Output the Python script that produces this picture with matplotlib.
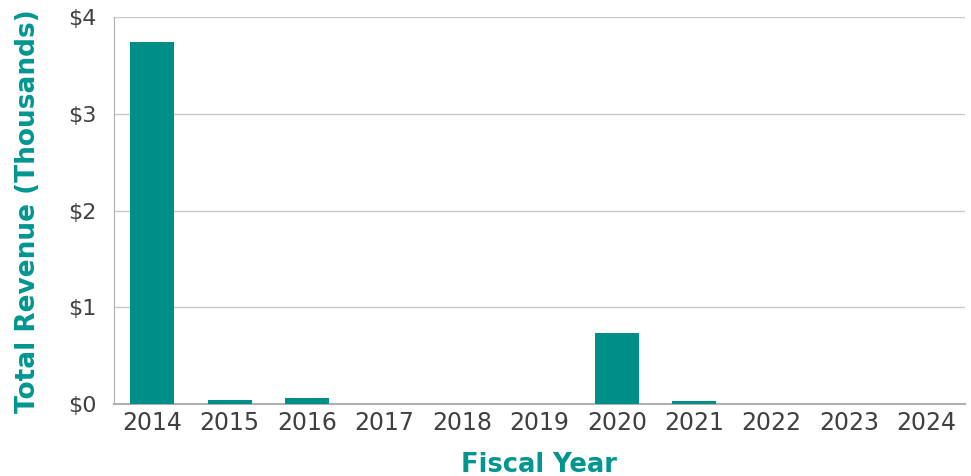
import matplotlib
matplotlib.use('Agg')
import matplotlib.pyplot as plt
from matplotlib.ticker import FuncFormatter

years = ["2014", "2015", "2016", "2017", "2018", "2019", "2020", "2021", "2022", "2023", "2024"]
revenue = [3.74, 0.04, 0.065, 0.004, 0.004, 0.004, 0.73, 0.035, 0.004, 0.004, 0.004]

teal = "#008F88"
label_teal = "#00968F"
text_gray = "#404040"
grid_gray = "#C8C8C8"

plt.rcParams['font.family'] = ['DejaVu Sans']

fig = plt.figure(figsize=(9.71, 4.76), dpi=100)
ax = fig.add_axes([0.117, 0.151, 0.877, 0.813])

x = range(len(years))
ax.bar(x, revenue, width=0.57, color=teal, zorder=3)

ax.set_xlim(-0.5, len(years) - 0.5)
ax.set_ylim(0, 4)
ax.set_yticks([0, 1, 2, 3, 4])
ax.yaxis.set_major_formatter(FuncFormatter(lambda v, p: f"${v:.0f}"))
ax.set_xticks(list(x))
ax.set_xticklabels(years)

ax.tick_params(axis='both', length=0, labelcolor=text_gray)
ax.tick_params(axis='y', pad=12, labelsize=16)
ax.tick_params(axis='x', pad=5, labelsize=17)
ax.grid(axis='y', color=grid_gray, linewidth=1, zorder=0)

for side in ['top', 'right']:
    ax.spines[side].set_visible(False)
ax.spines['left'].set_color("#B0B0B0")
ax.spines['bottom'].set_color("#B0B0B0")
ax.spines['bottom'].set_linewidth(1.5)

ax.set_xlabel("Fiscal Year", fontsize=18.5, fontweight='bold', color=label_teal, labelpad=12)
ax.set_ylabel("Total Revenue (Thousands)", fontsize=19, fontweight='bold', color=label_teal, labelpad=20)

fig.savefig("out.png", dpi=100)
